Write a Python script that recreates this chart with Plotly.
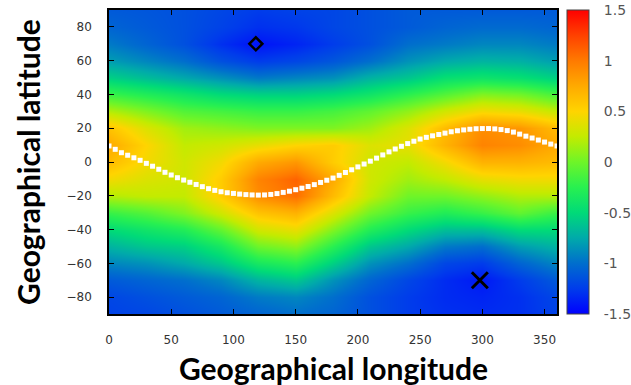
import plotly.graph_objects as go

# Grid
lons = [0, 30, 60, 90, 120, 150, 180, 210, 240, 270, 300, 330, 360]
lats = [90, 80, 70, 60, 50, 40, 30, 20, 10, 0, -10, -20, -30, -40, -50, -60, -70, -80, -90]
z_rows = [
    [-1.10, -1.12, -1.15, -1.20, -1.25, -1.22, -1.20, -1.15, -1.10, -1.10, -1.10, -1.10, -1.10],
    [-1.05, -1.10, -1.15, -1.22, -1.30, -1.27, -1.20, -1.15, -1.10, -1.05, -1.02, -1.02, -1.05],
    [-0.95, -1.05, -1.15, -1.30, -1.42, -1.35, -1.25, -1.15, -1.00, -0.95, -0.90, -0.90, -0.95],
    [-0.80, -0.90, -1.00, -1.15, -1.25, -1.20, -1.12, -1.00, -0.85, -0.75, -0.70, -0.72, -0.80],
    [-0.55, -0.65, -0.75, -0.85, -0.95, -0.90, -0.85, -0.70, -0.60, -0.45, -0.40, -0.45, -0.55],
    [-0.20, -0.30, -0.40, -0.50, -0.55, -0.55, -0.50, -0.40, -0.25, -0.10, 0.05, 0.00, -0.15],
    [0.20, 0.05, -0.10, -0.15, -0.20, -0.20, -0.15, -0.05, 0.10, 0.30, 0.45, 0.40, 0.25],
    [0.60, 0.35, 0.15, 0.10, 0.05, 0.05, 0.05, 0.15, 0.35, 0.65, 0.90, 0.85, 0.65],
    [0.75, 0.50, 0.25, 0.30, 0.40, 0.50, 0.55, 0.35, 0.40, 0.70, 0.95, 0.90, 0.75],
    [0.65, 0.45, 0.30, 0.45, 0.75, 0.85, 0.55, 0.30, 0.25, 0.45, 0.70, 0.70, 0.65],
    [0.45, 0.35, 0.30, 0.55, 0.95, 1.10, 0.75, 0.30, 0.15, 0.25, 0.40, 0.45, 0.45],
    [0.20, 0.25, 0.25, 0.55, 0.90, 1.05, 0.65, 0.25, 0.00, 0.00, 0.10, 0.20, 0.20],
    [-0.20, -0.10, 0.05, 0.30, 0.60, 0.70, 0.35, 0.00, -0.20, -0.30, -0.20, -0.05, -0.20],
    [-0.50, -0.40, -0.30, -0.05, 0.30, 0.40, 0.05, -0.30, -0.50, -0.65, -0.65, -0.50, -0.50],
    [-0.70, -0.60, -0.55, -0.35, 0.00, 0.10, -0.25, -0.60, -0.75, -0.95, -1.00, -0.80, -0.70],
    [-0.90, -0.85, -0.75, -0.60, -0.35, -0.25, -0.55, -0.85, -1.00, -1.20, -1.25, -1.05, -0.90],
    [-1.10, -1.05, -1.00, -0.90, -0.70, -0.60, -0.85, -1.05, -1.20, -1.32, -1.40, -1.25, -1.10],
    [-1.20, -1.15, -1.10, -1.05, -0.95, -0.90, -1.00, -1.15, -1.25, -1.32, -1.35, -1.30, -1.20],
    [-1.22, -1.20, -1.15, -1.10, -1.05, -1.00, -1.05, -1.15, -1.25, -1.30, -1.32, -1.30, -1.22],
]

# Dotted white curve (every 5 deg of longitude)
curve_lon = list(range(0, 361, 5))
curve_lat = [9.5, 7.5, 5.5, 4.0, 2.5, 1.0, -0.8, -2.5, -4.3, -6.1, -7.7, -9.3, -10.7,
             -12.0, -13.3, -14.6, -15.8, -16.8, -17.6, -18.2, -18.6, -19.0, -19.3, -19.5,
             -19.6, -19.5, -19.2, -18.7, -18.0, -17.3, -16.4, -15.5, -14.5, -13.4, -12.1,
             -10.8, -9.5, -7.9, -6.2, -4.6, -2.9, -1.2, 0.5, 2.3, 4.2, 6.0, 7.7, 9.3, 10.9,
             12.3, 13.6, 14.6, 15.5, 16.3, 17.1, 17.9, 18.5, 19.0, 19.4, 19.7, 19.8, 19.8,
             19.6, 19.2, 18.6, 17.7, 16.5, 15.3, 14.2, 13.0, 11.8, 10.6, 9.5]

diamond_pt = ([118], [70])
cross_pt = ([298], [-70])

x_ticks = [0, 50, 100, 150, 200, 250, 300, 350]
y_ticks = [-80, -60, -40, -20, 0, 20, 40, 60, 80]
cb_ticks = [-1.5, -1, -0.5, 0, 0.5, 1, 1.5]
cb_labels = ["-1.5", "-1", "-0.5", "0", "0.5", "1", "1.5"]

colorscale = [
    [0.0, "rgb(0,0,255)"],
    [0.0833, "rgb(0,60,235)"],
    [0.1667, "rgb(0,110,205)"],
    [0.25, "rgb(0,170,170)"],
    [0.3333, "rgb(0,218,120)"],
    [0.4167, "rgb(40,240,80)"],
    [0.5, "rgb(110,245,40)"],
    [0.5833, "rgb(195,235,0)"],
    [0.6667, "rgb(255,212,0)"],
    [0.75, "rgb(255,170,0)"],
    [0.8333, "rgb(255,122,0)"],
    [0.9167, "rgb(255,65,0)"],
    [1.0, "rgb(255,0,0)"],
]

fig = go.Figure()
fig.add_trace(go.Heatmap(
    x=lons, y=lats, z=z_rows, zmin=-1.5, zmax=1.5, zsmooth="best",
    colorscale=colorscale,
    colorbar=dict(
        x=1.0223, xanchor="left", xpad=0, y=0.5, yanchor="middle", ypad=0,
        len=1.0, lenmode="fraction", thickness=22,
        outlinewidth=1, outlinecolor="#444",
        tickvals=cb_ticks, ticktext=cb_labels, ticks="outside", ticklen=12,
        tickcolor="rgba(0,0,0,0)",
        tickfont=dict(family="DejaVu Sans", size=14, color="#555"),
    ),
    showscale=True,
))
fig.add_trace(go.Scatter(
    x=curve_lon, y=curve_lat, mode="markers",
    marker=dict(symbol="square", size=5, color="white"),
    showlegend=False,
))
fig.add_trace(go.Scatter(
    x=diamond_pt[0], y=diamond_pt[1], mode="markers",
    marker=dict(symbol="diamond-open", size=10, color="black", line=dict(width=2.5, color="black")),
    showlegend=False,
))
fig.add_trace(go.Scatter(
    x=cross_pt[0], y=cross_pt[1], mode="markers",
    marker=dict(symbol="x-thin", size=16, color="black", line=dict(width=3, color="black")),
    showlegend=False,
))

fig.update_layout(
    width=631, height=385,
    margin=dict(l=109, r=74, t=10, b=71, autoexpand=False),
    plot_bgcolor="white", paper_bgcolor="white",
    showlegend=False,
    annotations=[
        dict(text="<b>Geographical longitude</b>", xref="paper", yref="paper",
             x=0.5, y=-0.178, xanchor="center", yanchor="middle", showarrow=False,
             font=dict(family="Lato", size=30, color="black")),
        dict(text="<b>Geographical latitude</b>", xref="paper", yref="paper",
             x=-0.181, y=0.5, xanchor="center", yanchor="middle", showarrow=False,
             textangle=-90, font=dict(family="Lato", size=30, color="black")),
    ],
)
fig.update_xaxes(
    range=[0, 360], tickvals=x_ticks, ticks="inside", ticklen=5, tickcolor="black",
    showline=True, linecolor="black", linewidth=1.5, mirror="ticks",
    showgrid=False, zeroline=False, ticklabelstandoff=14,
    tickfont=dict(family="DejaVu Sans", size=12, color="#333"),
)
fig.update_yaxes(
    range=[-90, 90], tickvals=y_ticks, ticks="inside", ticklen=5, tickcolor="black",
    showline=True, linecolor="black", linewidth=1.5, mirror="ticks",
    showgrid=False, zeroline=False, ticklabelstandoff=13,
    tickfont=dict(family="DejaVu Sans", size=12, color="#333"),
)

fig.write_html(
    "out.html",
    config={"displayModeBar": False},
    post_script="document.body.style.margin='0';document.body.style.overflow='hidden';",
)
